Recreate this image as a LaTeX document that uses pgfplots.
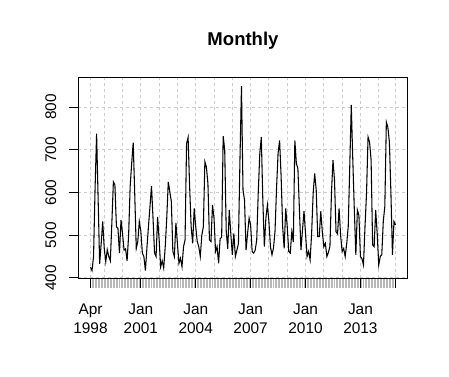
\documentclass[border=0pt]{standalone}
\usepackage{fontspec}
\setmainfont{Liberation Sans}
\usepackage{pgfplots}
\pgfplotsset{compat=1.18}
\usepackage{pgfplotstable}
\pgfplotstableread{
k v
0 425
1 417
2 450
3 610
4 738
5 585
6 433
7 480
8 532
9 470
10 438
11 466
12 450
13 440
14 528
15 625
16 618
17 520
18 516
19 458
20 536
21 504
22 465
23 468
24 440
25 500
26 614
27 668
28 717
29 598
30 469
31 485
32 532
33 510
34 458
35 450
36 417
37 470
38 520
39 567
40 615
41 540
42 458
43 450
44 543
45 490
46 426
47 440
48 423
49 473
50 540
51 625
52 602
53 579
54 462
55 450
56 529
57 480
58 434
59 446
60 426
61 473
62 489
63 715
64 729
65 614
66 520
67 481
68 563
69 520
70 485
71 473
72 450
73 500
74 520
75 672
76 660
77 621
78 489
79 485
80 571
81 540
82 462
83 473
84 434
85 492
86 495
87 732
88 700
89 510
90 468
91 559
92 504
93 454
94 504
95 450
96 465
97 480
98 676
99 849
100 606
101 582
102 465
103 504
104 540
105 524
106 462
107 458
108 465
109 489
110 600
111 690
112 730
113 582
114 473
115 540
116 571
117 532
118 473
119 454
120 470
121 510
122 610
123 692
124 722
125 637
126 520
127 469
128 563
129 520
130 462
131 458
132 508
133 484
134 722
135 668
136 656
137 560
138 465
139 512
140 556
141 504
142 450
143 462
144 442
145 504
146 598
147 645
148 606
149 497
150 497
151 556
152 508
153 473
154 481
155 450
156 460
157 473
158 598
159 676
160 629
161 508
162 503
163 563
164 500
165 462
166 469
167 450
168 480
169 520
170 660
171 805
172 676
173 559
174 454
175 559
176 547
177 450
178 445
179 430
180 520
181 598
182 730
183 718
184 676
185 477
186 473
187 559
188 504
189 430
190 450
191 454
192 533
193 567
194 765
195 753
196 718
197 598
198 454
199 532
200 524
}\datatable
\newcommand\tickfont{\fontsize{11.55pt}{13.9pt}\selectfont}
\begin{document}
\begin{tikzpicture}
\path[use as bounding box, fill=white] (0,0) rectangle (336.75pt,282.75pt);
\begin{axis}[
  at={(58.725pt,74.025pt)}, anchor=south west,
  width=247.05pt, height=150.45pt, scale only axis,
  xmin=-8, xmax=208, ymin=399, ymax=869,
  clip=false,
  axis line style={black, line width=0.75pt},
  tick align=outside,
  xtick pos=lower, ytick pos=left,
  xtick={0,33,69,105,141,177,200}, xticklabels={},
  minor xtick={0,1,...,200},
  ytick={400,500,600,700,800}, yticklabels={},
  major tick length=7.2pt, minor tick length=7.2pt,
  every major tick/.append style={black, line width=0.75pt},
  every minor tick/.append style={color=black!28, line width=0.75pt},
  xmajorgrids=true, ymajorgrids=true,
  major grid style={color=black!20, line width=0.75pt, dash pattern=on 2.25pt off 2.25pt},
  extra x ticks={9,21,45,57,81,93,117,129,153,165,189},
  extra x tick labels={},
  extra x tick style={grid=major, major tick length=0pt},
]
\addplot[black, line width=0.8pt, mark=none] table[x=k, y=v] {\datatable};
\node[rotate=90, anchor=base, inner sep=0pt, font=\tickfont] at ([xshift=-16.7pt]axis cs:-8,400) {400};
\node[rotate=90, anchor=base, inner sep=0pt, font=\tickfont] at ([xshift=-16.7pt]axis cs:-8,500) {500};
\node[rotate=90, anchor=base, inner sep=0pt, font=\tickfont] at ([xshift=-16.7pt]axis cs:-8,600) {600};
\node[rotate=90, anchor=base, inner sep=0pt, font=\tickfont] at ([xshift=-16.7pt]axis cs:-8,700) {700};
\node[rotate=90, anchor=base, inner sep=0pt, font=\tickfont] at ([xshift=-16.7pt]axis cs:-8,800) {800};
\node[anchor=base, inner sep=0pt, font=\tickfont] at ([yshift=-26.8pt]axis cs:0,399) {Apr};
\node[anchor=base, inner sep=0pt, font=\tickfont] at ([yshift=-41.25pt]axis cs:0,399) {1998};
\node[anchor=base, inner sep=0pt, font=\tickfont] at ([yshift=-26.8pt]axis cs:33,399) {Jan};
\node[anchor=base, inner sep=0pt, font=\tickfont] at ([yshift=-41.25pt]axis cs:33,399) {2001};
\node[anchor=base, inner sep=0pt, font=\tickfont] at ([yshift=-26.8pt]axis cs:69,399) {Jan};
\node[anchor=base, inner sep=0pt, font=\tickfont] at ([yshift=-41.25pt]axis cs:69,399) {2004};
\node[anchor=base, inner sep=0pt, font=\tickfont] at ([yshift=-26.8pt]axis cs:105,399) {Jan};
\node[anchor=base, inner sep=0pt, font=\tickfont] at ([yshift=-41.25pt]axis cs:105,399) {2007};
\node[anchor=base, inner sep=0pt, font=\tickfont] at ([yshift=-26.8pt]axis cs:141,399) {Jan};
\node[anchor=base, inner sep=0pt, font=\tickfont] at ([yshift=-41.25pt]axis cs:141,399) {2010};
\node[anchor=base, inner sep=0pt, font=\tickfont] at ([yshift=-26.8pt]axis cs:177,399) {Jan};
\node[anchor=base, inner sep=0pt, font=\tickfont] at ([yshift=-41.25pt]axis cs:177,399) {2013};
\end{axis}
\node[anchor=base, inner sep=0pt, font=\fontsize{13.9pt}{16pt}\selectfont\bfseries] at (182.25pt,248.25pt) {Monthly};
\end{tikzpicture}
\end{document}
